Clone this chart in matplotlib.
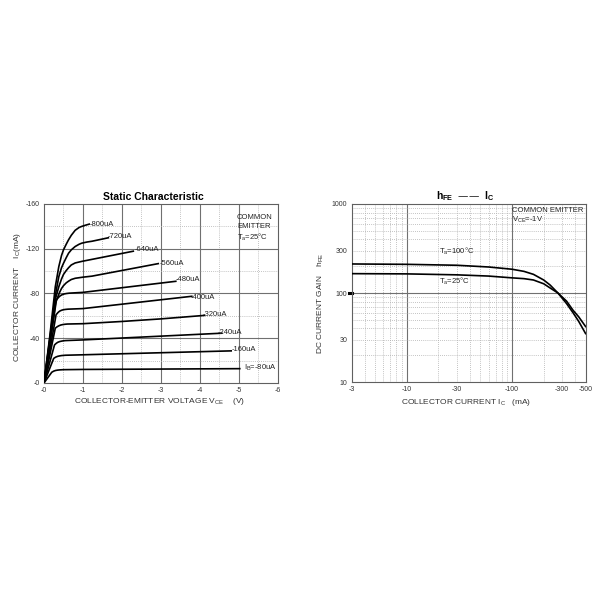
import numpy as np
import matplotlib
matplotlib.use("Agg")
import matplotlib.pyplot as plt

plt.rcParams['font.family'] = ['Liberation Sans', 'DejaVu Sans']
plt.rcParams['mathtext.default'] = 'regular'

# ---- static characteristic (magnitudes of -V_CE in V, -I_C in mA) ----
ib_labels = ["-800uA", "-720uA", "-640uA", "-560uA", "-480uA",
             "-400uA", "-320uA", "-240uA", "-160uA", "I$_B$=-80uA"]
vce_curves = [
    [0, 0.15, 0.29, 0.38, 0.45, 0.5, 0.57, 0.63, 0.7, 0.8, 0.9, 0.97, 1.06, 1.16],
    [0, 0.15, 0.3, 0.38, 0.45, 0.5, 0.57, 0.63, 0.7, 0.8, 0.9, 0.97, 1.1, 1.23, 1.65],
    [0, 0.15, 0.3, 0.38, 0.45, 0.5, 0.57, 0.63, 0.7, 0.8, 0.97, 1.23, 2.29],
    [0, 0.15, 0.3, 0.4, 0.45, 0.5, 0.57, 0.63, 0.7, 0.8, 1.0, 1.23, 2.93],
    [0, 0.16, 0.32, 0.38, 0.42, 0.47, 0.52, 0.58, 0.65, 0.8, 1.0, 3.38],
    [0, 0.16, 0.31, 0.36, 0.4, 0.45, 0.5, 0.56, 0.62, 1.0, 3.79],
    [0, 0.15, 0.29, 0.34, 0.38, 0.43, 0.48, 0.54, 0.6, 1.0, 2.0, 3.0, 4.11],
    [0, 0.14, 0.27, 0.31, 0.35, 0.4, 0.45, 0.5, 0.55, 1.0, 4.56],
    [0, 0.13, 0.25, 0.3, 0.35, 0.4, 0.45, 0.55, 1.0, 4.8],
    [0, 0.1, 0.2, 0.25, 0.3, 0.35, 0.4, 0.5, 1.0, 5.02],
]
ic_curves = [
    [0, 42, 86, 104, 114, 119, 124, 128, 132, 136.5, 139, 140, 141, 142],
    [0, 40, 80, 95, 103, 107, 112, 116, 119, 122, 124, 125, 126, 126.7, 129.8],
    [0, 38, 76, 86, 93, 97, 100.5, 103, 105.5, 107.3, 108.7, 110.5, 117.8],
    [0, 36, 72, 81, 84.5, 87, 89.5, 91, 92.5, 93.6, 94.6, 95.5, 106.7],
    [0, 37, 74.4, 76.8, 78, 79, 79.6, 80, 80.3, 80.6, 81, 90.9],
    [0, 31, 61, 63, 64.2, 65, 65.5, 65.8, 66, 66.5, 77.5],
    [0, 25, 49, 50.3, 51.1, 51.8, 52.2, 52.5, 52.7, 53.0, 55, 57.3, 60.4],
    [0, 17.5, 34, 35.3, 36.3, 37, 37.4, 37.7, 37.9, 38.5, 44.5],
    [0, 11.5, 22, 23.1, 23.8, 24.2, 24.5, 24.8, 25.2, 28.7],
    [0, 4.8, 9.6, 10.6, 11.2, 11.5, 11.7, 11.9, 12.1, 12.8],
]
label_x = [1.17, 1.64, 2.32, 2.97, 3.37, 3.76, 4.08, 4.46, 4.80, 5.13]
label_y = [142, 131, 119.6, 106.5, 92.7, 76.6, 61.3, 45.5, 29.9, 13.5]

# ---- hFE vs IC (magnitudes of -I_C in mA) ----
ic_gain = [3, 10, 30, 60, 100, 130, 160, 200, 230, 273, 330, 380, 430, 500]
hfe_100 = [212, 210, 205, 196, 185, 175, 162, 140, 123, 100, 76, 60, 48, 35]
hfe_25 = [165, 164, 160, 155, 148, 145, 140, 127, 114, 100, 81, 64, 54, 42]

fig = plt.figure(figsize=(6, 6), dpi=100)
fig.patch.set_facecolor('white')

solid = dict(color='#707070', lw=0.8)
dotted = dict(color='#b0b0b0', lw=0.6, ls=(0, (1, 1.5)))

# left chart
ax1 = fig.add_axes([0.0733, 0.3617, 0.39, 0.2983])
ax1.set_xlim(0, 6)
ax1.set_ylim(0, 160)
for v in np.arange(0.5, 6, 1.0):
    ax1.axvline(v, **dotted, zorder=1)
for v in range(1, 6):
    ax1.axvline(v, **solid, zorder=1)
for i in range(20, 160, 40):
    ax1.axhline(i, **dotted, zorder=1)
for i in range(40, 160, 40):
    ax1.axhline(i, **solid, zorder=1)
for v, i in zip(vce_curves, ic_curves):
    ax1.plot(v, i, color='black', lw=1.2, zorder=3, solid_joinstyle='round')
for lab, x, y in zip(ib_labels, label_x, label_y):
    ax1.text(x, y, lab, fontsize=5.5, va='center', ha='left', color='#222222', zorder=4)
ax1.text(4.95, 151, "COMMON\nEMITTER\nT$_a$=25\u00b0C", fontsize=5.5, va='top',
         ha='left', color='#222222', linespacing=1.3)
ax1.set_xticks(range(0, 7))
ax1.set_xticklabels(["-0", "-1", "-2", "-3", "-4", "-5", "-6"])
ax1.set_yticks(range(0, 161, 40))
ax1.set_yticklabels(["-0", "-40", "-80", "-120", "-160"])
ax1.tick_params(length=0, labelsize=5, colors='#333333', pad=3)
for s in ax1.spines.values():
    s.set_color('#606060')
    s.set_linewidth(0.8)
fig.text(0.256, 0.672, "Static Characteristic", fontsize=7.5, fontweight='bold',
         ha='center', va='center')
fig.text(0.03, 0.505, "COLLECTOR CURRENT    I$_C$(mA)", fontsize=6, rotation=90,
         ha='center', va='center', color='#333333')
fig.text(0.265, 0.331, "COLLECTOR-EMITTER VOLTAGE V$_{CE}$    (V)", fontsize=6,
         ha='center', va='center', color='#333333')

# right chart
ax2 = fig.add_axes([0.586, 0.3633, 0.39, 0.2967])
ax2.set_xscale('log')
ax2.set_yscale('log')
ax2.set_xlim(3, 500)
ax2.set_ylim(10, 1000)
for d in [1, 10, 100]:
    for k in range(2, 10):
        x = d * k
        if 3 < x < 500:
            ax2.axvline(x, **dotted, zorder=1)
for x in [10, 100]:
    ax2.axvline(x, **solid, zorder=1)
for d in [10, 100]:
    for k in range(2, 10):
        ax2.axhline(d * k, **dotted, zorder=1)
ax2.axhline(100, **solid, zorder=1)
ax2.plot(ic_gain, hfe_100, color='black', lw=1.2, zorder=3)
ax2.plot(ic_gain, hfe_25, color='black', lw=1.2, zorder=3)
ax2.text(20.3, 291, "T$_a$=100\u00b0C", fontsize=5.5, va='center', ha='left', color='#222222')
ax2.text(20.3, 134, "T$_a$=25\u00b0C", fontsize=5.5, va='center', ha='left', color='#222222')
ax2.text(100, 930, "COMMON EMITTER\nV$_{CE}$=-1V", fontsize=5.5, va='top', ha='left',
         color='#222222', linespacing=1.2)
ax2.set_xticks([3, 10, 30, 100, 300, 500])
ax2.set_xticklabels(["-3", "-10", "-30", "-100", "-300", "-500"])
ax2.set_yticks([10, 30, 100, 300, 1000])
ax2.set_yticklabels(["10", "30", "100", "300", "1000"])
ax2.minorticks_off()
ax2.tick_params(length=0, labelsize=5, colors='#333333', pad=3)
ax2.plot([-0.012, 0.0], [100, 100], color='black', lw=2.2,
         transform=ax2.get_yaxis_transform(), clip_on=False)
for s in ax2.spines.values():
    s.set_color('#606060')
    s.set_linewidth(0.8)
fig.text(0.775, 0.673, "h$_{FE}$  \u2014\u2014  I$_C$", fontsize=7.5, fontweight='bold',
         ha='center', va='center')
fig.text(0.535, 0.495, "DC CURRENT GAIN    h$_{FE}$", fontsize=6, rotation=90,
         ha='center', va='center', color='#333333')
fig.text(0.777, 0.330, "COLLECTOR CURRENT I$_C$   (mA)", fontsize=6,
         ha='center', va='center', color='#333333')

fig.savefig("out.png", dpi=100, facecolor='white')
